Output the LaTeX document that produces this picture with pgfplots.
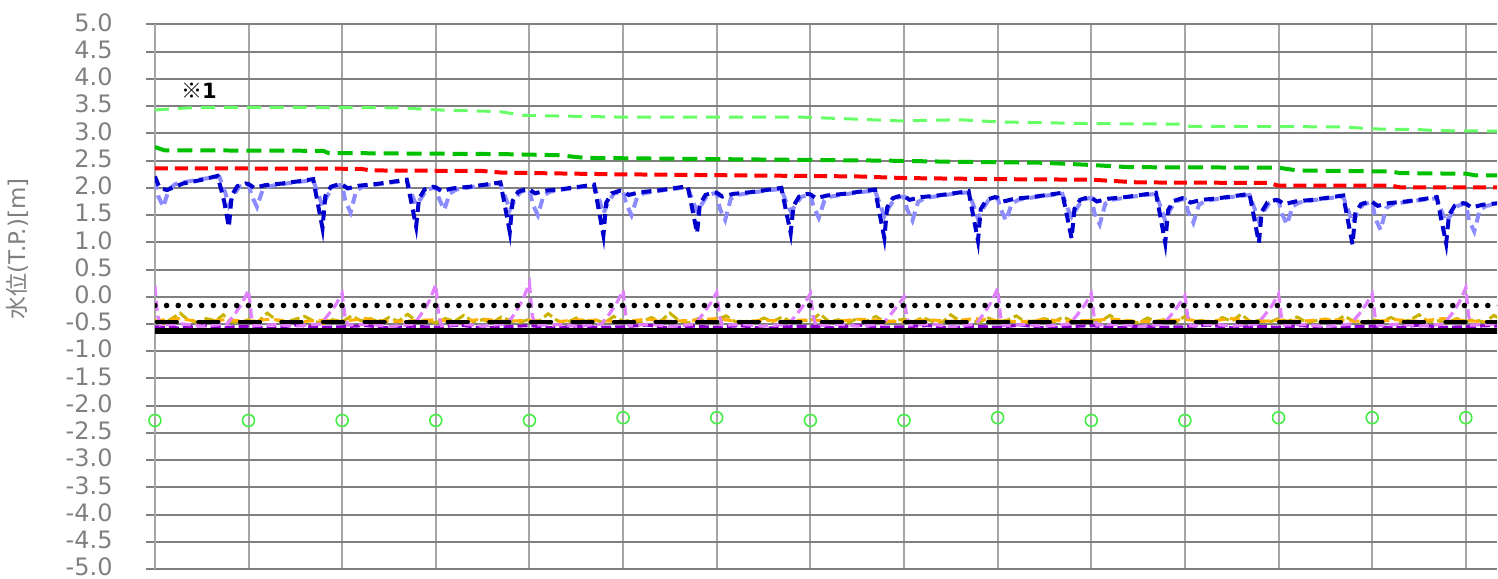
\documentclass[border=0pt]{standalone}
\usepackage{pgfplots}
\pgfplotsset{compat=1.18}
\usepackage{fontspec}
\setmainfont{DejaVu Sans}
\newfontfamily\cjk{Noto Sans CJK JP}
\definecolor{lgreen}{HTML}{66FF66}
\definecolor{dgreen}{HTML}{00C000}
\definecolor{dblue}{HTML}{0000CC}
\definecolor{lblue}{HTML}{8C8CFF}
\definecolor{olive2}{HTML}{C8B400}
\definecolor{orange2}{HTML}{FFB000}
\definecolor{purple2}{HTML}{9000D0}
\definecolor{violet2}{HTML}{E080FF}
\definecolor{circgreen}{HTML}{44EE44}
\definecolor{axgray}{HTML}{606060}
\definecolor{hgray}{HTML}{808080}
\definecolor{vgray}{HTML}{A6A6A6}
\definecolor{lblgray}{HTML}{808080}
\begin{document}
\begin{tikzpicture}
\begin{axis}[
  name=ax,
  x=46.85pt, y=27.25pt,
  xmin=0, xmax=14.333, ymin=-5, ymax=5,
  xtick={0,1,...,14}, xticklabels={},
  xticklabel style={overlay},
  extra x ticks={0}, extra x tick labels={},
  extra x tick style={major grid style={color=axgray, line width=1.2pt}, xticklabel style={overlay}},
  ytick distance=0.5,
  xtick pos=bottom, ytick pos=left,
  tick align=outside, major tick length=4.5pt,
  xtick style={draw=none},
  ytick style={color=hgray, line width=1pt},
  grid=major,
  x grid style={color=vgray, line width=1pt},
  y grid style={color=hgray, line width=1pt},
  axis line style={draw=none},
  /pgf/number format/assume math mode=true,
  yticklabel={\pgfmathprintnumber[fixed,fixed zerofill,precision=1]{\tick}},
  yticklabel style={overlay, font=\fontsize{12}{14}\selectfont, text=lblgray, anchor=east, inner sep=0pt, xshift=-16.5pt, yshift=1pt},
  ylabel={{\cjk 水位}(T.P.)[m]},
  every axis y label/.style={overlay, at={(axis description cs:-0.1021,0.5881)}, anchor=center, rotate=90, font=\fontsize{11.5}{13}\selectfont, text=lblgray},
]
% bottom noisy series
\addplot[olive2, line width=1.5pt, dash pattern=on 5pt off 2pt] coordinates {
(0.0,-0.45)(0.1,-0.48)(0.2,-0.38)(0.27,-0.30)(0.35,-0.42)(0.45,-0.47)(0.55,-0.40)(0.65,-0.44)(0.73,-0.33)(0.8,-0.45)(0.9,-0.48)
(1.0,-0.42)(1.1,-0.46)(1.2,-0.30)(1.3,-0.43)(1.4,-0.47)(1.5,-0.41)(1.6,-0.36)(1.7,-0.45)(1.8,-0.49)(1.9,-0.42)
(2.0,-0.46)(2.1,-0.35)(2.2,-0.44)(2.3,-0.40)(2.4,-0.47)(2.5,-0.38)(2.6,-0.45)(2.7,-0.32)(2.8,-0.46)(2.9,-0.43)
(3.0,-0.48)(3.1,-0.40)(3.2,-0.45)(3.3,-0.34)(3.4,-0.46)(3.5,-0.42)(3.6,-0.48)(3.7,-0.37)(3.8,-0.44)(3.9,-0.47)
(4.0,-0.41)(4.1,-0.45)(4.2,-0.31)(4.3,-0.44)(4.4,-0.47)(4.5,-0.39)(4.6,-0.45)(4.7,-0.42)(4.8,-0.48)(4.9,-0.36)
(5.0,-0.45)(5.1,-0.43)(5.2,-0.47)(5.3,-0.38)(5.4,-0.45)(5.5,-0.30)(5.6,-0.44)(5.7,-0.48)(5.8,-0.40)(5.9,-0.46)
(6.0,-0.42)(6.1,-0.35)(6.2,-0.46)(6.3,-0.44)(6.4,-0.48)(6.5,-0.39)(6.6,-0.45)(6.7,-0.37)(6.8,-0.47)(6.9,-0.43)
(7.0,-0.45)(7.1,-0.31)(7.2,-0.46)(7.3,-0.42)(7.4,-0.48)(7.5,-0.40)(7.6,-0.45)(7.7,-0.36)(7.8,-0.47)(7.9,-0.44)
(8.0,-0.41)(8.1,-0.46)(8.2,-0.38)(8.3,-0.45)(8.4,-0.48)(8.5,-0.33)(8.6,-0.45)(8.7,-0.42)(8.8,-0.47)(8.9,-0.39)
(9.0,-0.46)(9.1,-0.43)(9.2,-0.35)(9.3,-0.47)(9.4,-0.44)(9.5,-0.40)(9.6,-0.46)(9.7,-0.37)(9.8,-0.45)(9.9,-0.48)
(10.0,-0.42)(10.1,-0.45)(10.2,-0.34)(10.3,-0.46)(10.4,-0.43)(10.5,-0.48)(10.6,-0.39)(10.7,-0.45)(10.8,-0.41)(10.9,-0.47)
(11.0,-0.36)(11.1,-0.45)(11.2,-0.43)(11.3,-0.48)(11.4,-0.38)(11.5,-0.45)(11.6,-0.32)(11.7,-0.46)(11.8,-0.43)(11.9,-0.47)
(12.0,-0.40)(12.1,-0.45)(12.2,-0.37)(12.3,-0.47)(12.4,-0.44)(12.5,-0.41)(12.6,-0.46)(12.7,-0.35)(12.8,-0.45)(12.9,-0.48)
(13.0,-0.42)(13.1,-0.45)(13.2,-0.38)(13.3,-0.46)(13.4,-0.43)(13.5,-0.33)(13.6,-0.46)(13.7,-0.44)(13.8,-0.48)(13.9,-0.40)
(14.0,-0.45)(14.1,-0.42)(14.2,-0.47)(14.3,-0.34)(14.4,-0.45)};
\addplot[orange2, line width=1.5pt, dash pattern=on 5pt off 2.5pt] coordinates {
(0,-0.44)(0.25,-0.40)(0.5,-0.46)(0.75,-0.42)(1.0,-0.45)(1.25,-0.41)(1.5,-0.47)(1.75,-0.43)(2.0,-0.45)(2.25,-0.40)(2.5,-0.46)(2.75,-0.44)
(3.0,-0.42)(3.25,-0.46)(3.5,-0.41)(3.75,-0.45)(4.0,-0.43)(4.25,-0.47)(4.5,-0.42)(4.75,-0.44)(5.0,-0.46)(5.25,-0.41)(5.5,-0.45)(5.75,-0.43)
(6.0,-0.40)(6.25,-0.46)(6.5,-0.43)(6.75,-0.45)(7.0,-0.42)(7.25,-0.46)(7.5,-0.41)(7.75,-0.44)(8.0,-0.46)(8.25,-0.42)(8.5,-0.45)(8.75,-0.40)
(9.0,-0.44)(9.25,-0.46)(9.5,-0.42)(9.75,-0.45)(10.0,-0.43)(10.25,-0.41)(10.5,-0.46)(10.75,-0.44)(11.0,-0.42)(11.25,-0.45)(11.5,-0.40)(11.75,-0.46)
(12.0,-0.43)(12.25,-0.45)(12.5,-0.41)(12.75,-0.44)(13.0,-0.46)(13.25,-0.42)(13.5,-0.45)(13.75,-0.40)(14.0,-0.44)(14.25,-0.46)(14.5,-0.43)};
\addplot[purple2, line width=1.5pt, dash pattern=on 5pt off 2pt] coordinates {
(0,-0.55)(0.25,-0.57)(0.5,-0.53)(0.75,-0.56)(1.0,-0.54)(1.25,-0.58)(1.5,-0.52)(1.75,-0.56)(2.0,-0.55)(2.25,-0.53)(2.5,-0.57)(2.75,-0.54)
(3.0,-0.56)(3.25,-0.52)(3.5,-0.57)(3.75,-0.55)(4.0,-0.53)(4.25,-0.57)(4.5,-0.54)(4.75,-0.56)(5.0,-0.55)(5.25,-0.52)(5.5,-0.57)(5.75,-0.54)
(6.0,-0.56)(6.25,-0.53)(6.5,-0.58)(6.75,-0.55)(7.0,-0.54)(7.25,-0.57)(7.5,-0.52)(7.75,-0.56)(8.0,-0.55)(8.25,-0.53)(8.5,-0.57)(8.75,-0.54)
(9.0,-0.56)(9.25,-0.52)(9.5,-0.57)(9.75,-0.55)(10.0,-0.53)(10.25,-0.57)(10.5,-0.54)(10.75,-0.56)(11.0,-0.55)(11.25,-0.52)(11.5,-0.57)(11.75,-0.54)
(12.0,-0.56)(12.25,-0.53)(12.5,-0.58)(12.75,-0.55)(13.0,-0.54)(13.25,-0.57)(13.5,-0.52)(13.75,-0.56)(14.0,-0.55)(14.25,-0.53)(14.5,-0.56)};
\addplot[violet2, line width=1.6pt, dash pattern=on 5pt off 2.5pt] coordinates {
(0,0.2)(0.03,-0.35)(0.06,-0.52)(0.3,-0.5)(0.5,-0.54)(0.77,-0.5)(0.86,-0.3)(0.93,-0.12)(1,0.12)
(1.03,-0.35)(1.06,-0.53)(1.3,-0.51)(1.5,-0.54)(1.77,-0.5)(1.86,-0.31)(1.93,-0.15)(2,0.06)
(2.03,-0.36)(2.06,-0.52)(2.3,-0.5)(2.5,-0.55)(2.77,-0.5)(2.86,-0.28)(2.93,-0.08)(3,0.22)
(3.03,-0.34)(3.06,-0.53)(3.3,-0.5)(3.5,-0.54)(3.77,-0.49)(3.86,-0.26)(3.93,-0.05)(4,0.25)
(4.03,-0.34)(4.06,-0.52)(4.3,-0.51)(4.5,-0.54)(4.77,-0.5)(4.86,-0.3)(4.93,-0.12)(5,0.12)
(5.03,-0.35)(5.06,-0.53)(5.3,-0.5)(5.5,-0.55)(5.77,-0.5)(5.86,-0.3)(5.93,-0.13)(6,0.08)
(6.03,-0.36)(6.06,-0.52)(6.3,-0.51)(6.5,-0.54)(6.77,-0.5)(6.86,-0.31)(6.93,-0.15)(7,0.06)
(7.03,-0.36)(7.06,-0.53)(7.3,-0.5)(7.5,-0.54)(7.77,-0.5)(7.86,-0.32)(7.93,-0.17)(8,0.0)
(8.03,-0.37)(8.06,-0.52)(8.3,-0.5)(8.5,-0.55)(8.77,-0.5)(8.86,-0.29)(8.93,-0.1)(9,0.15)
(9.03,-0.35)(9.06,-0.53)(9.3,-0.51)(9.5,-0.54)(9.77,-0.5)(9.86,-0.31)(9.93,-0.15)(10,0.06)
(10.03,-0.36)(10.06,-0.52)(10.3,-0.5)(10.5,-0.55)(10.77,-0.5)(10.86,-0.32)(10.93,-0.16)(11,0.02)
(11.03,-0.37)(11.06,-0.53)(11.3,-0.5)(11.5,-0.54)(11.77,-0.5)(11.86,-0.32)(11.93,-0.16)(12,0.05)
(12.03,-0.36)(12.06,-0.52)(12.3,-0.51)(12.5,-0.55)(12.77,-0.5)(12.86,-0.32)(12.93,-0.15)(13,0.05)
(13.03,-0.36)(13.06,-0.53)(13.3,-0.5)(13.5,-0.54)(13.77,-0.5)(13.86,-0.29)(13.93,-0.1)(14,0.17)
(14.03,-0.35)(14.06,-0.52)(14.3,-0.5)(14.5,-0.54)};
% black reference lines
\addplot[black, line width=3pt] coordinates {(0,-0.635)(15,-0.635)};
\addplot[black, line width=2.2pt, line cap=round, dash pattern=on 10pt off 10.8pt] coordinates {(0.02,-0.46)(15,-0.46)};
\addplot[black, line width=2.8pt, line cap=round, dash pattern=on 0pt off 5.85pt] coordinates {(0,-0.16)(15,-0.16)};
% upper levels
\addplot[lgreen, line width=1.5pt, dash pattern=on 7pt off 4.5pt] coordinates {
(0,3.43)(0.37,3.47)(1.0,3.48)(2.6,3.47)(3.04,3.43)(3.68,3.40)(3.95,3.33)(4.96,3.30)(6.88,3.30)(7.52,3.26)(7.95,3.23)(8.6,3.25)(9.02,3.21)
(10.0,3.18)(11.0,3.17)(11.05,3.13)(12.65,3.12)(13.07,3.08)(13.5,3.07)(13.71,3.05)(14.5,3.04)};
\addplot[dgreen, line width=2pt, dash pattern=on 7.5pt off 4pt] coordinates {
(0,2.75)(0.1,2.69)(1.8,2.68)(1.85,2.64)(3.7,2.62)(4.3,2.60)(4.6,2.55)(6.5,2.52)(7.8,2.50)(8.5,2.48)(9.5,2.46)(10.0,2.42)(10.4,2.38)
(12.0,2.37)(12.2,2.32)(13.2,2.30)(13.3,2.27)(14.0,2.26)(14.1,2.23)(14.5,2.23)};
\addplot[red, line width=2pt, dash pattern=on 6.5pt off 3.5pt] coordinates {
(0,2.36)(2.2,2.35)(2.3,2.32)(3.5,2.31)(3.7,2.28)(4.9,2.25)(6.2,2.23)(7.5,2.21)(8.0,2.18)(9.0,2.16)(10.0,2.15)(10.5,2.10)
(11.9,2.09)(12.0,2.04)(13.2,2.04)(13.3,2.01)(14.5,2.01)};
% light blue
\addplot[lblue, line width=2pt, dash pattern=on 5pt off 3pt] coordinates {
(0.00,2.15)(0.035,1.85)(0.09,1.65)(0.15,1.98)(0.22,2.07)(0.36,2.12)(0.53,2.17)(0.69,2.20)(0.75,1.92)(0.79,1.68)(0.84,1.86)(0.9,2.02)(0.97,2.06)
(1.00,2.06)(1.035,1.85)(1.09,1.65)(1.15,1.96)(1.22,2.03)(1.36,2.07)(1.53,2.11)(1.69,2.14)(1.75,1.86)(1.79,1.66)(1.84,1.85)(1.9,2.01)(1.97,2.05)
(2.00,2.05)(2.035,1.75)(2.09,1.55)(2.15,1.95)(2.22,2.02)(2.36,2.06)(2.53,2.10)(2.69,2.13)(2.75,1.85)(2.79,1.69)(2.84,1.80)(2.9,1.96)(2.97,2.00)
(3.00,2.00)(3.035,1.80)(3.09,1.60)(3.15,1.90)(3.22,1.97)(3.36,2.01)(3.53,2.05)(3.69,2.08)(3.75,1.80)(3.79,1.59)(3.84,1.76)(3.9,1.92)(3.97,1.96)
(4.00,1.96)(4.035,1.70)(4.09,1.50)(4.15,1.86)(4.22,1.93)(4.36,1.97)(4.53,2.01)(4.69,2.04)(4.75,1.76)(4.79,1.53)(4.84,1.73)(4.9,1.89)(4.97,1.93)
(5.00,1.93)(5.035,1.70)(5.09,1.50)(5.15,1.83)(5.22,1.90)(5.36,1.94)(5.53,1.98)(5.69,2.01)(5.75,1.73)(5.79,1.57)(5.84,1.70)(5.9,1.86)(5.97,1.90)
(6.00,1.90)(6.035,1.61)(6.09,1.41)(6.15,1.80)(6.22,1.87)(6.36,1.91)(6.53,1.95)(6.69,1.98)(6.75,1.70)(6.79,1.57)(6.84,1.67)(6.9,1.83)(6.97,1.87)
(7.00,1.87)(7.035,1.65)(7.09,1.45)(7.15,1.77)(7.22,1.84)(7.36,1.88)(7.53,1.92)(7.69,1.95)(7.75,1.67)(7.79,1.48)(7.84,1.64)(7.9,1.80)(7.97,1.84)
(8.00,1.84)(8.035,1.60)(8.09,1.40)(8.15,1.74)(8.22,1.81)(8.36,1.85)(8.53,1.89)(8.69,1.92)(8.75,1.64)(8.79,1.43)(8.84,1.61)(8.9,1.77)(8.97,1.81)
(9.00,1.81)(9.035,1.60)(9.09,1.40)(9.15,1.71)(9.22,1.78)(9.36,1.82)(9.53,1.86)(9.69,1.89)(9.75,1.61)(9.79,1.47)(9.84,1.61)(9.9,1.77)(9.97,1.81)
(10.00,1.81)(10.035,1.53)(10.09,1.33)(10.15,1.71)(10.22,1.78)(10.36,1.82)(10.53,1.86)(10.69,1.89)(10.75,1.61)(10.79,1.39)(10.84,1.59)(10.9,1.75)(10.97,1.79)
(11.00,1.79)(11.035,1.56)(11.09,1.36)(11.15,1.69)(11.22,1.76)(11.36,1.80)(11.53,1.84)(11.69,1.87)(11.75,1.59)(11.79,1.39)(11.84,1.56)(11.9,1.72)(11.97,1.76)
(12.00,1.76)(12.035,1.53)(12.09,1.33)(12.15,1.66)(12.22,1.73)(12.36,1.77)(12.53,1.81)(12.69,1.84)(12.75,1.56)(12.79,1.36)(12.84,1.53)(12.9,1.69)(12.97,1.73)
(13.00,1.73)(13.035,1.43)(13.09,1.23)(13.15,1.63)(13.22,1.70)(13.36,1.74)(13.53,1.78)(13.69,1.81)(13.75,1.53)(13.79,1.38)(13.84,1.50)(13.9,1.66)(13.97,1.70)
(14.00,1.70)(14.035,1.40)(14.09,1.20)(14.15,1.60)(14.22,1.67)(14.36,1.71)(14.53,1.75)};
% dark blue
\addplot[dblue, line width=2pt, dash pattern=on 5pt off 3pt] coordinates {
(0.00,2.21)(0.05,2.00)(0.13,1.96)(0.3,2.08)(0.48,2.14)(0.67,2.22)(0.74,1.75)(0.79,1.28)(0.82,1.86)(0.88,2.03)(0.97,2.08)
(1.00,2.07)(1.06,2.00)(1.18,2.05)(1.36,2.08)(1.53,2.12)(1.69,2.16)(1.74,1.71)(1.79,1.26)(1.82,1.85)(1.88,2.02)(1.97,2.07)
(2.00,2.06)(2.06,1.99)(2.18,2.04)(2.36,2.07)(2.53,2.11)(2.69,2.15)(2.74,1.72)(2.79,1.29)(2.82,1.80)(2.88,1.97)(2.97,2.02)
(3.00,2.01)(3.06,1.94)(3.18,1.99)(3.36,2.02)(3.53,2.06)(3.69,2.10)(3.74,1.65)(3.79,1.19)(3.82,1.76)(3.88,1.93)(3.97,1.98)
(4.00,1.97)(4.06,1.90)(4.18,1.95)(4.36,1.98)(4.53,2.02)(4.69,2.06)(4.74,1.60)(4.79,1.13)(4.82,1.73)(4.88,1.90)(4.97,1.95)
(5.00,1.94)(5.06,1.87)(5.18,1.92)(5.36,1.95)(5.53,1.99)(5.69,2.03)(5.74,1.60)(5.79,1.17)(5.82,1.70)(5.88,1.87)(5.97,1.92)
(6.00,1.91)(6.06,1.84)(6.18,1.89)(6.36,1.92)(6.53,1.96)(6.69,2.00)(6.74,1.58)(6.79,1.17)(6.82,1.67)(6.88,1.84)(6.97,1.89)
(7.00,1.88)(7.06,1.81)(7.18,1.86)(7.36,1.89)(7.53,1.93)(7.69,1.97)(7.74,1.52)(7.79,1.08)(7.82,1.64)(7.88,1.81)(7.97,1.86)
(8.00,1.85)(8.06,1.78)(8.18,1.83)(8.36,1.86)(8.53,1.90)(8.69,1.94)(8.74,1.48)(8.79,1.03)(8.82,1.61)(8.88,1.78)(8.97,1.83)
(9.00,1.82)(9.06,1.75)(9.18,1.80)(9.36,1.83)(9.53,1.87)(9.69,1.91)(9.74,1.49)(9.79,1.07)(9.82,1.61)(9.88,1.78)(9.97,1.83)
(10.00,1.82)(10.06,1.75)(10.18,1.80)(10.36,1.83)(10.53,1.87)(10.69,1.91)(10.74,1.45)(10.79,0.99)(10.82,1.59)(10.88,1.76)(10.97,1.81)
(11.00,1.80)(11.06,1.73)(11.18,1.78)(11.36,1.81)(11.53,1.85)(11.69,1.89)(11.74,1.44)(11.79,0.99)(11.82,1.56)(11.88,1.73)(11.97,1.78)
(12.00,1.77)(12.06,1.70)(12.18,1.75)(12.36,1.78)(12.53,1.82)(12.69,1.86)(12.74,1.41)(12.79,0.96)(12.82,1.53)(12.88,1.70)(12.97,1.75)
(13.00,1.74)(13.06,1.67)(13.18,1.72)(13.36,1.75)(13.53,1.79)(13.69,1.83)(13.74,1.40)(13.79,0.98)(13.82,1.50)(13.88,1.67)(13.97,1.72)
(14.00,1.71)(14.06,1.64)(14.18,1.69)(14.36,1.72)(14.53,1.76)};
% green circles
\addplot[only marks, mark=o, mark size=3pt, mark options={draw=circgreen, line width=0.8pt}] coordinates {
(0,-2.27)(1,-2.27)(2,-2.27)(3,-2.27)(4,-2.27)(5,-2.22)(6,-2.22)(7,-2.27)(8,-2.27)(9,-2.22)(10,-2.27)(11,-2.27)(12,-2.22)(13,-2.22)(14,-2.22)};
\node[font=\fontsize{10.5}{12}\selectfont\bfseries, inner sep=0pt] at (axis cs:0.47,3.78) {{\cjk ※}1};
\end{axis}
\path (-77.5pt,0pt) (671.5pt,284.75pt);
\end{tikzpicture}
\end{document}
